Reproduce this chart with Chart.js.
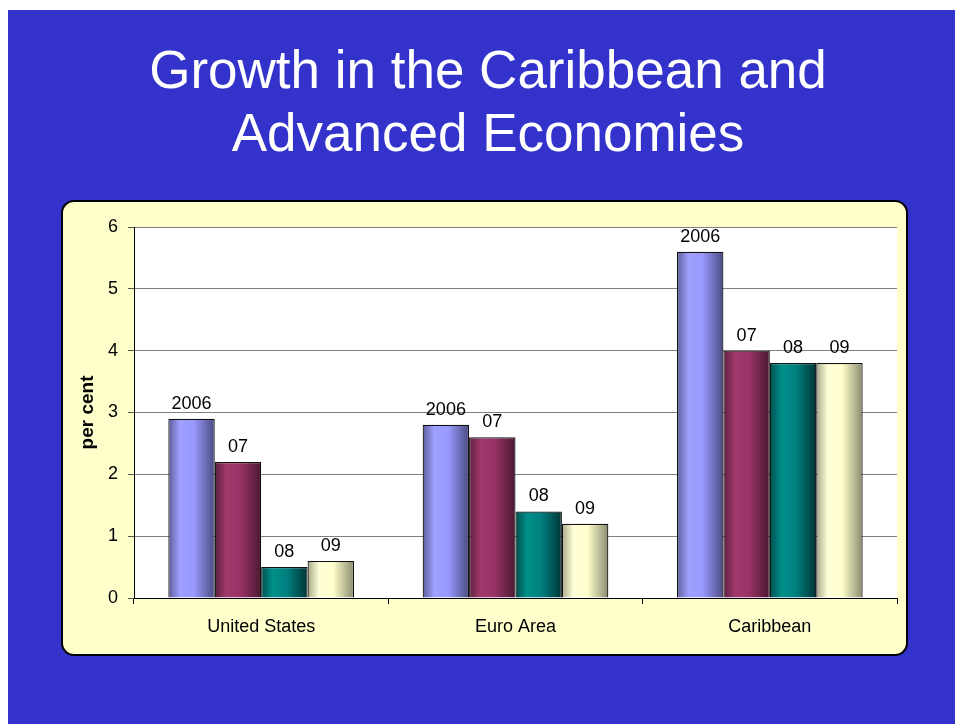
<!DOCTYPE html>
<html>
<head>
<meta charset="utf-8">
<script src="https://cdn.jsdelivr.net/npm/chart.js@4"></script>
<style>
  body { margin: 0; background: #fff; width: 955px; height: 724px; overflow: hidden; position: relative; font-family: "Liberation Sans", Arial, sans-serif; }
  #fondo { position: absolute; left: 8px; top: 10px; right: 0; bottom: 0; background: #3333CC; }
  #titulo { position: absolute; left: 0; width: 976px; top: 38px; text-align: center; color: #fff; font-size: 53px; line-height: 63px; }
  #panel { position: absolute; left: 61px; top: 200px; width: 843px; height: 452px; background: #FFFFCC; border: 2px solid #000; border-radius: 13px; }
  #caja { position: absolute; left: 62px; top: 201px; width: 845px; height: 454px; }
</style>
</head>
<body>
<div id="fondo"></div>
<div id="titulo">Growth in the Caribbean and<br>Advanced Economies</div>
<div id="panel"></div>
<div id="caja"><canvas id="grafico" width="845" height="454" style="width:845px;height:454px"></canvas></div>
<script>
// Datos del grafico
var categorias = ['United States', 'Euro Area', 'Caribbean'];
var series = ['2006', '07', '08', '09'];
var valores2006 = [2.9, 2.8, 5.6];
var valores07 = [2.2, 2.6, 4.0];
var valores08 = [0.5, 1.4, 3.8];
var valores09 = [0.6, 1.2, 3.8];
var ticksY = [0, 1, 2, 3, 4, 5, 6];

// Colores: base, claro, oscuro izquierda, oscuro derecha
var colores = [
    ['#9999FF', '#A0A0FF', '#5C5C99', '#4A4A80'],
    ['#993366', '#A03A6C', '#5C1F3D', '#4A1830'],
    ['#008080', '#00908A', '#004D4D', '#003535'],
    ['#FFFFCC', '#FFFFD8', '#A8A888', '#8A8A70']
];

var fuente = '"Liberation Sans", Arial, sans-serif';

// Fondo blanco del area de trazado
var fondoArea = {
    id: 'fondoArea',
    beforeDraw: function (chart) {
        var a = chart.chartArea;
        chart.ctx.save();
        chart.ctx.fillStyle = '#FFFFFF';
        chart.ctx.fillRect(a.left, a.top, a.right - a.left, a.bottom - a.top);
        chart.ctx.restore();
    }
};

// Degradado horizontal en cada barra (efecto cilindro)
var degradado = {
    id: 'degradado',
    beforeDatasetDraw: function (chart, args) {
        var ctx = chart.ctx;
        var c = colores[args.index];
        args.meta.data.forEach(function (el) {
            var x0 = el.x - el.width / 2;
            var x1 = el.x + el.width / 2;
            var g = ctx.createLinearGradient(x0, 0, x1, 0);
            g.addColorStop(0, c[2]);
            g.addColorStop(0.25, c[1]);
            g.addColorStop(0.55, c[0]);
            g.addColorStop(1, c[3]);
            el.options = Object.assign({}, el.options, { backgroundColor: g });
        });
    }
};

// Etiquetas encima de las barras
var etiquetas = {
    id: 'etiquetas',
    afterDatasetsDraw: function (chart) {
        var ctx = chart.ctx;
        ctx.save();
        ctx.font = '18px ' + fuente;
        ctx.fillStyle = '#000';
        ctx.textAlign = 'center';
        ctx.textBaseline = 'alphabetic';
        chart.data.datasets.forEach(function (ds, i) {
            chart.getDatasetMeta(i).data.forEach(function (el) {
                ctx.fillText(ds.label, el.x, el.y - 10);
            });
        });
        ctx.restore();
    }
};

var conjuntos = [valores2006, valores07, valores08, valores09].map(function (v, i) {
    return {
        label: series[i],
        data: v,
        backgroundColor: colores[i][0],
        borderColor: '#111',
        borderWidth: 1.2,
        borderSkipped: 'bottom',
        barPercentage: 1,
        categoryPercentage: 0.73
    };
});

new Chart(document.getElementById('grafico'), {
    type: 'bar',
    data: { labels: categorias, datasets: conjuntos },
    options: {
        responsive: false,
        animation: false,
        devicePixelRatio: 1,
        layout: { padding: { left: 0, top: 26, right: 10, bottom: 0 } },
        plugins: {
            legend: { display: false },
            tooltip: { enabled: false }
        },
        scales: {
            x: {
                grid: { offset: true, drawOnChartArea: false, drawTicks: true, tickLength: 6, tickColor: '#000' },
                border: { color: '#000', width: 1 },
                ticks: { color: '#000', font: { family: fuente, size: 18 }, padding: 12, autoSkip: false, maxRotation: 0 },
                afterFit: function (s) { s.height = 57; }
            },
            y: {
                min: 0,
                max: 6,
                afterBuildTicks: function (s) { s.ticks = ticksY.map(function (v) { return { value: v }; }); },
                grid: { color: '#808080', tickLength: 6, tickColor: '#555' },
                border: { color: '#000', width: 1 },
                ticks: { color: '#000', font: { family: fuente, size: 18 }, padding: 10, autoSkip: false },
                title: { display: true, text: 'per cent', color: '#000', font: { family: fuente, size: 19, weight: 'bold' }, padding: { top: 14, bottom: 0 } },
                afterFit: function (s) { s.width = 72; }
            }
        }
    },
    plugins: [fondoArea, degradado, etiquetas]
});
</script>
</body>
</html>
